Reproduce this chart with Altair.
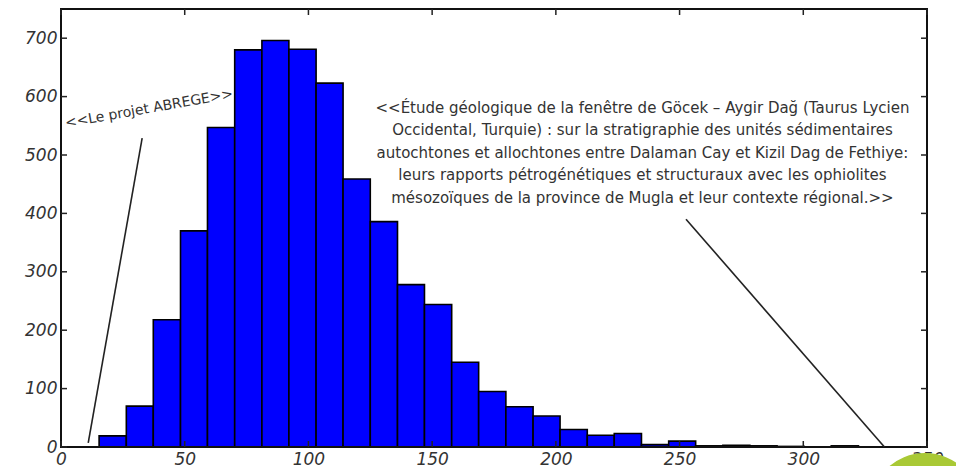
import altair as alt
import pandas as pd

# ---- data ----
bin_edges = [15.4, 26.4, 37.3, 48.3, 59.2, 70.2, 81.2, 92.1, 103.1, 114.0,
             125.0, 136.0, 146.9, 157.9, 168.8, 179.8, 190.8, 201.7, 212.7,
             223.6, 234.6, 245.6, 256.5, 267.5, 278.4, 289.4, 300.4, 311.3, 322.3]
counts = [19, 70, 218, 370, 547, 680, 696, 681, 623, 459,
          386, 278, 244, 145, 95, 69, 53, 30, 20, 23,
          4, 10, 2, 3, 2, 1, 0, 2]
x_ticks = [0, 50, 100, 150, 200, 250, 300, 350]
y_ticks = [0, 100, 200, 300, 400, 500, 600, 700]

note_long = ("<<Étude géologique de la fenêtre de Göcek – Aygir Dağ (Taurus Lycien\n"
             "Occidental, Turquie) : sur la stratigraphie des unités sédimentaires\n"
             "autochtones et allochtones entre Dalaman Cay et Kizil Dag de Fethiye:\n"
             "leurs rapports pétrogénétiques et structuraux avec les ophiolites\n"
             "mésozoïques de la province de Mugla et leur contexte régional.>>")
note_short = "<<Le projet ABREGE>>"

# annotation anchors (data coordinates)
arrow_x = [11.0, 252.6]
arrow_y = [7.0, 390.0]
arrow_x2 = [32.8, 332.8]
arrow_y2 = [529.0, 0.0]

W, H = 866, 438
FONT = "DejaVu Sans"
INK = "#333333"

bars_df = pd.DataFrame({"lo": bin_edges[:-1], "hi": bin_edges[1:], "n": counts})
xt_df = pd.DataFrame({"v": x_ticks})
yt_df = pd.DataFrame({"v": y_ticks})
arrows_df = pd.DataFrame({"x": arrow_x, "y": arrow_y, "x2": arrow_x2, "y2": arrow_y2})
notes_df = pd.DataFrame({"x": [235.0], "y": [593.0], "t": [note_long]})
short_df = pd.DataFrame({"x": [35.6], "y": [579.0], "t": [note_short]})

xs = alt.Scale(domain=[0, 350], nice=False, zero=False)
ys = alt.Scale(domain=[0, 750], nice=False)

xaxis = alt.Axis(values=x_ticks, ticks=False, domain=False, grid=False, title=None,
                 labelFont=FONT, labelFontSize=17, labelFontStyle="italic",
                 labelColor=INK, labelPadding=4, labelFlush=False)
yaxis = alt.Axis(values=y_ticks, ticks=False, domain=False, grid=False, title=None,
                 labelFont=FONT, labelFontSize=17, labelFontStyle="italic",
                 labelColor=INK, labelPadding=4)

bars = alt.Chart(bars_df).mark_rect(fill="#0000FF", stroke="black", strokeWidth=1.6).encode(
    x=alt.X("lo:Q", scale=xs, axis=xaxis),
    x2="hi:Q",
    y=alt.Y("n:Q", scale=ys, axis=yaxis),
    y2=alt.datum(0),
)

frame = alt.Chart(pd.DataFrame({"k": [0]})).mark_rect(
    fill=None, filled=False, stroke="#111111", strokeWidth=2).encode(
    x=alt.value(0), x2=alt.value(W), y=alt.value(0), y2=alt.value(H))

tick_style = dict(color="#222222", strokeWidth=1.5)
xt_bottom = alt.Chart(xt_df).mark_rule(**tick_style).encode(
    x=alt.X("v:Q", scale=xs), y=alt.value(H), y2=alt.value(H - 6))
xt_top = alt.Chart(xt_df).mark_rule(**tick_style).encode(
    x=alt.X("v:Q", scale=xs), y=alt.value(0), y2=alt.value(6))
yt_left = alt.Chart(yt_df).mark_rule(**tick_style).encode(
    y=alt.Y("v:Q", scale=ys), x=alt.value(0), x2=alt.value(6))
yt_right = alt.Chart(yt_df).mark_rule(**tick_style).encode(
    y=alt.Y("v:Q", scale=ys), x=alt.value(W), x2=alt.value(W - 6))

arrows = alt.Chart(arrows_df).mark_rule(color="#222222", strokeWidth=1.6).encode(
    x=alt.X("x:Q", scale=xs), y=alt.Y("y:Q", scale=ys),
    x2="x2:Q", y2="y2:Q")

long_text = alt.Chart(notes_df).mark_text(
    font=FONT, fontSize=15, color=INK, align="center", baseline="top",
    lineBreak="\n", lineHeight=22.5).encode(
    x=alt.X("x:Q", scale=xs), y=alt.Y("y:Q", scale=ys), text="t:N")

short_text = alt.Chart(short_df).mark_text(
    font=FONT, fontSize=14, color=INK, align="center", baseline="middle",
    angle=350).encode(
    x=alt.X("x:Q", scale=xs), y=alt.Y("y:Q", scale=ys), text="t:N")

blob = alt.Chart(pd.DataFrame({"k": [0]})).mark_circle(
    color="#A9C935", opacity=1).encode(
    x=alt.value(864), y=alt.value(499), size=alt.value(12076))

chart = alt.layer(
    bars, frame, xt_bottom, xt_top, yt_left, yt_right, arrows, long_text, short_text, blob
).properties(
    width=W, height=H,
    background="white",
    autosize=alt.AutoSizeParams(type="none"),
    padding={"left": 53, "top": 1, "right": 29, "bottom": 19},
).configure_view(
    stroke=None
)

chart.save("out.html", embed_options={"renderer": "svg", "actions": False})
